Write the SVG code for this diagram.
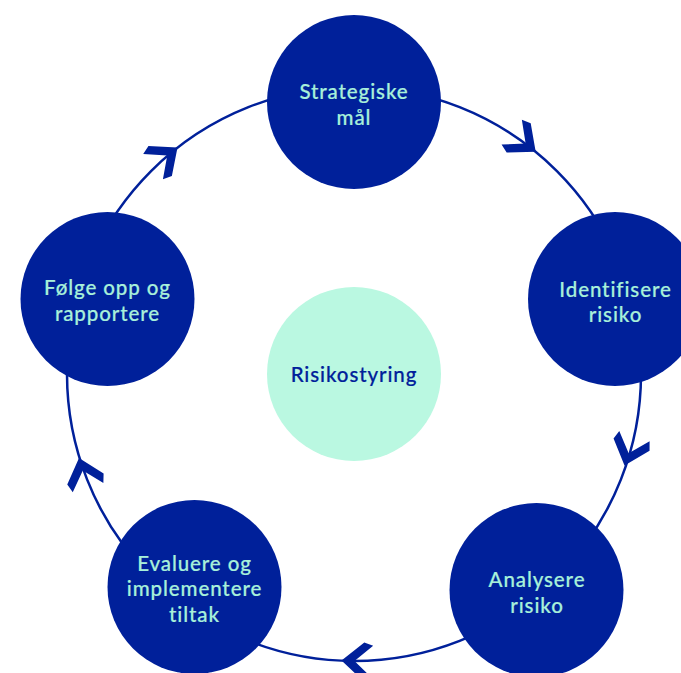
<svg xmlns="http://www.w3.org/2000/svg" width="681" height="673" viewBox="0 0 681 673">
<style>
.ring{fill:none;stroke:#00209A;stroke-width:2.5}
.node{fill:#00209A}
.hub{fill:#BAF8E1}
.t{font-family:Lato,"Open Sans","Liberation Sans",sans-serif;font-size:20.5px;font-weight:500;fill:#A8F0DA;stroke:#A8F0DA;stroke-width:0.2;text-anchor:middle;letter-spacing:0.9px}
.th{fill:#00209A;stroke:#00209A}
.arr{fill:#00209A}
</style>
<defs>
<polygon id="chev" points="0,0 -22,-19 -31,-16 -13,0 -31,16 -22,19"/>
</defs>
<g id="connectors">
<circle class="ring" cx="354" cy="374" r="287"/>
<use href="#chev" class="arr" transform="translate(535.7,151.8) rotate(39.3)"/>
<use href="#chev" class="arr" transform="translate(624.5,465.5) rotate(108.7)"/>
<use href="#chev" class="arr" transform="translate(341.5,660.5) rotate(182.5)"/>
<use href="#chev" class="arr" transform="translate(79,458) rotate(253)"/>
<use href="#chev" class="arr" transform="translate(177.5,147.5) rotate(322)"/>
</g>
<g id="hub">
<circle class="hub" cx="354" cy="374" r="87"/>
<text class="t th" x="354" y="382">Risikostyring</text>
</g>
<g id="strategiske">
<circle class="node" cx="354" cy="102" r="87"/>
<text class="t" x="354" y="99">Strategiske</text>
<text class="t" x="354" y="124.5">mål</text>
</g>
<g id="identifisere">
<circle class="node" cx="615" cy="299" r="87"/>
<text class="t" x="615.5" y="296.5">Identifisere</text>
<text class="t" x="615.5" y="322">risiko</text>
</g>
<g id="analysere">
<circle class="node" cx="536.5" cy="590" r="87"/>
<text class="t" x="537" y="587">Analysere</text>
<text class="t" x="537" y="613">risiko</text>
</g>
<g id="evaluere">
<circle class="node" cx="194.5" cy="587" r="87"/>
<text class="t" x="194.5" y="570.5">Evaluere og</text>
<text class="t" x="194.5" y="596">implementere</text>
<text class="t" x="194.5" y="621.5">tiltak</text>
</g>
<g id="folge">
<circle class="node" cx="107.5" cy="299" r="87"/>
<text class="t" x="107.5" y="295">Følge opp og</text>
<text class="t" x="107.5" y="320.5">rapportere</text>
</g>
</svg>
